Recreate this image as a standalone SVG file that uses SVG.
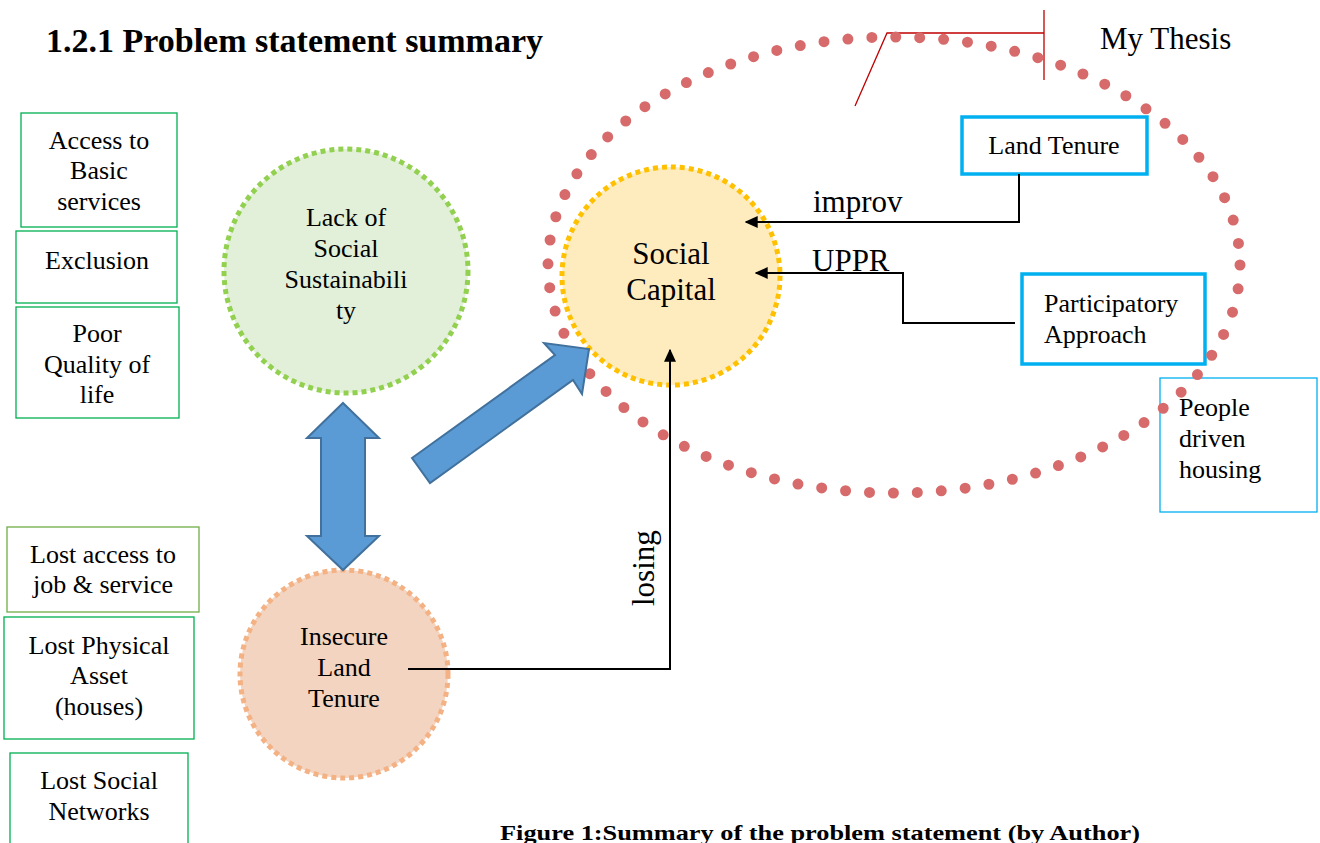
<svg xmlns="http://www.w3.org/2000/svg" width="1320" height="843" viewBox="0 0 1320 843">
  <defs>
    <style>
      text { font-family: "Liberation Serif", "Times New Roman", serif; fill: #000; }
      .lbl { font-size: 26px; text-anchor: middle; }
      .lbs { font-size: 26px; }
      .edge { font-size: 31px; }
      .gbox { fill: #fff; stroke: #00b050; stroke-width: 1.3; }
      .bbox { fill: #fff; stroke: #00b0f0; stroke-width: 3.5; }
      .conn { fill: none; stroke: #000; stroke-width: 2; }
      .big { fill: #5b9bd5; stroke: #41719c; stroke-width: 2; }
    </style>
    <marker id="ah" viewBox="0 0 10 10" refX="9" refY="5" markerWidth="13" markerHeight="12" markerUnits="userSpaceOnUse" orient="auto" preserveAspectRatio="none">
      <path d="M0,0 L10,5 L0,10 z" fill="#000"/>
    </marker>
  </defs>

  <rect width="1320" height="843" fill="#fff"/>

  <text x="46" y="52" font-size="34" font-weight="bold">1.2.1 Problem statement summary</text>
  <text x="1100" y="49" font-size="31">My Thesis</text>

  <!-- pointer to the thesis boundary -->
  <g id="thesis-pointer" stroke="#c00000" stroke-width="1.3" fill="none">
    <polyline points="855,106 887,33 1044,33"/>
    <line x1="1044" y1="10" x2="1044" y2="80"/>
  </g>

  <!-- left column boxes -->
  <g id="box-access">
    <rect class="gbox" x="21" y="113" width="156" height="114"/>
    <text class="lbl" x="99" y="149">Access to</text>
    <text class="lbl" x="99" y="179">Basic</text>
    <text class="lbl" x="99" y="210">services</text>
  </g>
  <g id="box-exclusion">
    <rect class="gbox" x="16" y="231" width="161" height="72"/>
    <text class="lbl" x="97" y="269">Exclusion</text>
  </g>
  <g id="box-quality">
    <rect class="gbox" x="16" y="307" width="163" height="111"/>
    <text class="lbl" x="97" y="342">Poor</text>
    <text class="lbl" x="97" y="373">Quality of</text>
    <text class="lbl" x="97" y="403">life</text>
  </g>
  <g id="box-job">
    <rect class="gbox" x="7" y="527" width="192" height="85" style="stroke:#70ad47"/>
    <text class="lbl" x="103" y="563">Lost access to</text>
    <text class="lbl" x="103" y="593">job &amp; service</text>
  </g>
  <g id="box-asset">
    <rect class="gbox" x="4" y="617" width="190" height="122"/>
    <text class="lbl" x="99" y="654">Lost Physical</text>
    <text class="lbl" x="99" y="684">Asset</text>
    <text class="lbl" x="99" y="715">(houses)</text>
  </g>
  <g id="box-networks">
    <rect class="gbox" x="10" y="753" width="178" height="100"/>
    <text class="lbl" x="99" y="789">Lost Social</text>
    <text class="lbl" x="99" y="820">Networks</text>
  </g>

  <!-- circles -->
  <g id="node-sustainability">
    <circle cx="346" cy="271" r="122" fill="#e2efd9" stroke="#92d050" stroke-width="5" stroke-dasharray="5 4"/>
    <text class="lbl" x="346" y="226">Lack of</text>
    <text class="lbl" x="346" y="257">Social</text>
    <text class="lbl" x="346" y="288">Sustainabili</text>
    <text class="lbl" x="346" y="319">ty</text>
  </g>
  <g id="node-tenure-insecure">
    <circle cx="344" cy="674" r="104" fill="#f2d4c1" stroke="#f4b183" stroke-width="5" stroke-dasharray="5 4"/>
    <text class="lbl" x="344" y="645">Insecure</text>
    <text class="lbl" x="344" y="676">Land</text>
    <text class="lbl" x="344" y="707">Tenure</text>
  </g>
  <g id="node-social-capital">
    <circle cx="671" cy="276" r="109" fill="#feecbf" stroke="#ffc000" stroke-width="5" stroke-dasharray="5 4"/>
    <text x="671" y="264" font-size="31" text-anchor="middle">Social</text>
    <text x="671" y="300" font-size="31" text-anchor="middle">Capital</text>
  </g>

  <!-- right boxes -->
  <g id="box-land-tenure">
    <rect class="bbox" x="962" y="117" width="185" height="57"/>
    <text class="lbl" x="1054" y="154">Land Tenure</text>
  </g>
  <g id="box-participatory">
    <rect class="bbox" x="1022" y="274" width="183" height="90"/>
    <text class="lbs" x="1044" y="312">Participatory</text>
    <text class="lbs" x="1044" y="343">Approach</text>
  </g>
  <g id="box-people-driven">
    <rect x="1160" y="378" width="157" height="134" fill="#fff" stroke="#00b0f0" stroke-width="1.3"/>
    <text class="lbs" x="1179" y="416">People</text>
    <text class="lbs" x="1179" y="447">driven</text>
    <text class="lbs" x="1179" y="478">housing</text>
  </g>

  <!-- thesis scope boundary -->
  <ellipse id="thesis-scope" cx="894" cy="265" rx="346" ry="228" fill="none" stroke="#d76b6b" stroke-width="11" stroke-linecap="round" stroke-dasharray="0 24"/>

  <!-- connectors -->
  <g id="connectors">
    <polyline class="conn" points="1019,174 1019,222 746,222" marker-end="url(#ah)"/>
    <polyline class="conn" points="1015,323 903,323 903,273 756,273" marker-end="url(#ah)"/>
    <polyline class="conn" points="408,669 670,669 670,350" marker-end="url(#ah)"/>
    <path class="big" d="M343,403 L379,438 L365,438 L365,536 L379,536 L343,570 L307,536 L321,536 L321,438 L307,438 Z"/>
    <path class="big" d="M412,458 L555,355 L544,343 L589,349 L582,394 L573,380 L430,483 Z"/>
  </g>

  <!-- connector labels -->
  <text class="edge" x="813" y="212">improv</text>
  <text class="edge" x="812" y="271">UPPR</text>
  <text class="edge" transform="translate(654,606) rotate(-90)">losing</text>

  <text x="500" y="840" font-size="22" font-weight="bold" textLength="640" lengthAdjust="spacingAndGlyphs">Figure 1:Summary of the problem statement (by Author)</text>
</svg>
